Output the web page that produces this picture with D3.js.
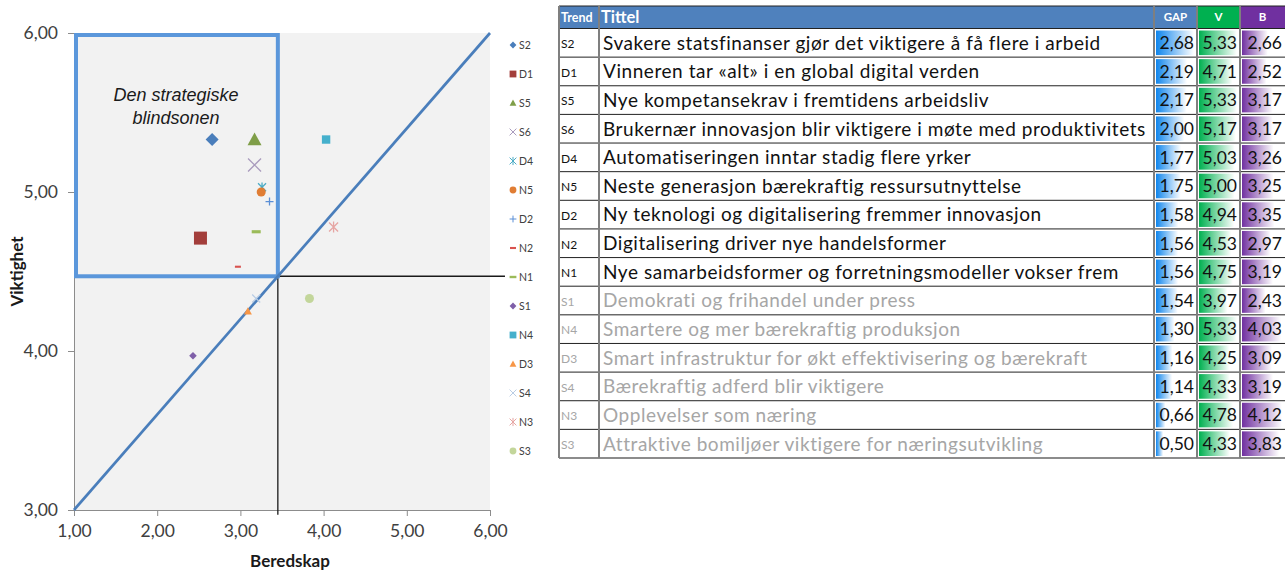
<!DOCTYPE html>
<html>
<head>
<meta charset="utf-8">
<script src="https://cdn.jsdelivr.net/npm/d3@7"></script>
<style>
  body { margin: 0; background: #fff; }
  svg { display: block; }
</style>
</head>
<body>
<svg id="chart" width="1285" height="573"></svg>
<script>
// Trend codes, titles and scores (Viktighet = importance, Beredskap = readiness)
const trends = ["S2","D1","S5","S6","D4","N5","D2","N2","N1","S1","N4","D3","S4","N3","S3"];
const titles = [
  "Svakere statsfinanser gjør det viktigere å få flere i arbeid",
  "Vinneren tar «alt» i en global digital verden",
  "Nye kompetansekrav i fremtidens arbeidsliv",
  "Brukernær innovasjon blir viktigere i møte med produktivitets",
  "Automatiseringen inntar stadig flere yrker",
  "Neste generasjon bærekraftig ressursutnyttelse",
  "Ny teknologi og digitalisering fremmer innovasjon",
  "Digitalisering driver nye handelsformer",
  "Nye samarbeidsformer og forretningsmodeller vokser frem",
  "Demokrati og frihandel under press",
  "Smartere og mer bærekraftig produksjon",
  "Smart infrastruktur for økt effektivisering og bærekraft",
  "Bærekraftig adferd blir viktigere",
  "Opplevelser som næring",
  "Attraktive bomiljøer viktigere for næringsutvikling"
];
const gap        = [2.68, 2.19, 2.17, 2.00, 1.77, 1.75, 1.58, 1.56, 1.56, 1.54, 1.30, 1.16, 1.14, 0.66, 0.50];
const viktighet  = [5.33, 4.71, 5.33, 5.17, 5.03, 5.00, 4.94, 4.53, 4.75, 3.97, 5.33, 4.25, 4.33, 4.78, 4.33];
const beredskap  = [2.66, 2.52, 3.17, 3.17, 3.26, 3.25, 3.35, 2.97, 3.19, 2.43, 4.03, 3.09, 3.19, 4.12, 3.83];
const highlighted = 9;              // the top rows shown in black
const xTicks = [1, 2, 3, 4, 5, 6];
const yTicks = [3, 4, 5, 6];
const splitX = 3.45;                // quadrant split on Beredskap
const zoneLabel = ["Den strategiske", "blindsonen"];

// Marker look per trend
const markerStyle = {
  S2: {shape: "diamond",  color: "#4a7ebb", r: 6.5},
  D1: {shape: "square",   color: "#a33e3b", r: 6.5},
  S5: {shape: "triangle", color: "#7f9e48", r: 7},
  S6: {shape: "x",        color: "#a99bbd", r: 6.5},
  D4: {shape: "star",     color: "#4bacc6", r: 4},
  N5: {shape: "circle",   color: "#e07d34", r: 4.5},
  D2: {shape: "plus",     color: "#5b8fd6", r: 4},
  N2: {shape: "dash",     color: "#d9534f", r: 3},
  N1: {shape: "dash",     color: "#9bbb59", r: 4.5},
  S1: {shape: "diamond",  color: "#7f5fa8", r: 3.8},
  N4: {shape: "square",   color: "#45b0cc", r: 4.2},
  D3: {shape: "triangle", color: "#f79646", r: 4},
  S4: {shape: "x",        color: "#b9cde5", r: 4},
  N3: {shape: "star",     color: "#e6a5a3", r: 4.5},
  S3: {shape: "circle",   color: "#c3d69b", r: 4.5}
};

function markerPath(shape, r) {
  switch (shape) {
    case "diamond":  return `M0,${-r}L${r},0L0,${r}L${-r},0Z`;
    case "square":   return `M${-r},${-r}H${r}V${r}H${-r}Z`;
    case "triangle": return `M0,${-r}L${r},${r*0.8}L${-r},${r*0.8}Z`;
    case "x":        return `M${-r},${-r}L${r},${r}M${r},${-r}L${-r},${r}`;
    case "star":     return `M${-r},${-r}L${r},${r}M${r},${-r}L${-r},${r}M0,${-r*1.2}V${r*1.2}`;
    case "plus":     return `M${-r},0H${r}M0,${-r}V${r}`;
    case "circle":   return d3.arc()({innerRadius: 0, outerRadius: r, startAngle: 0, endAngle: 2*Math.PI});
    case "dash":     return `M${-r},${-r*0.35}H${r}V${r*0.35}H${-r}Z`;
  }
}
const stroked = s => s === "x" || s === "star" || s === "plus";

const svg = d3.select("#chart");
const points = trends.map((t, i) => ({code: t, x: beredskap[i], y: viktighet[i]}));

// ---------- Scatter plot ----------
const x = d3.scaleLinear().domain([1, 6]).range([74, 490]);
const y = d3.scaleLinear().domain([3, 6]).range([510, 33]);
const diag = v => 3 + (v - 1) * 0.6;   // reference line from (1,3) to (6,6)
const splitY = diag(splitX);

const plot = svg.append("g");
plot.append("rect")
  .attr("x", x(1)).attr("y", y(6))
  .attr("width", x(6) - x(1)).attr("height", y(3) - y(6))
  .attr("fill", "#f2f2f2");

// axes
const fmt = d => d3.format(".2f")(d).replace(".", ",");
const yAxis = d3.axisLeft(y).tickValues(yTicks).tickSize(6).tickPadding(10).tickFormat(fmt);
const xAxis = d3.axisBottom(x).tickValues(xTicks).tickSize(6).tickPadding(9).tickFormat(fmt);
const gy = plot.append("g").attr("transform", `translate(${x(1)},0)`).call(yAxis);
const gx = plot.append("g").attr("transform", `translate(0,${y(3)})`).call(xAxis);
[gx, gy].forEach(g => {
  g.select(".domain").attr("stroke", "#8c8c8c");
  g.selectAll(".tick line").attr("stroke", "#8c8c8c");
  g.selectAll(".tick text").attr("fill", "#404040")
    .style("font-family", "Lato, 'Open Sans', sans-serif").style("font-size", "17.5px");
});

// axis titles
plot.append("text")
  .attr("transform", `translate(23,${(y(3) + y(6)) / 2}) rotate(-90)`)
  .attr("text-anchor", "middle")
  .style("font-family", "Lato, sans-serif").style("font-weight", "bold").style("font-size", "17px")
  .attr("fill", "#1a1a1a").text("Viktighet");
plot.append("text")
  .attr("x", (x(1) + x(6)) / 2 + 8).attr("y", 567)
  .attr("text-anchor", "middle")
  .style("font-family", "Lato, sans-serif").style("font-weight", "bold").style("font-size", "17px")
  .attr("fill", "#1a1a1a").text("Beredskap");

// quadrant lines
plot.append("path")
  .attr("d", d3.line()([[x(splitX), y(splitY)], [x(6.18), y(splitY)]]))
  .attr("stroke", "#1a1a1a").attr("stroke-width", 1.3).attr("fill", "none");
plot.append("path")
  .attr("d", d3.line()([[x(splitX), y(splitY)], [x(splitX), y(2.97)]]))
  .attr("stroke", "#1a1a1a").attr("stroke-width", 1.3).attr("fill", "none");

// blind-zone box
plot.append("rect")
  .attr("x", x(1) + 2).attr("y", y(6) + 2)
  .attr("width", x(splitX) - x(1) - 2).attr("height", y(splitY) - y(6) - 2)
  .attr("fill", "none").attr("stroke", "#5b97db").attr("stroke-width", 4);

// diagonal reference line
plot.append("path")
  .attr("d", d3.line()([[x(1), y(diag(1))], [x(6), y(diag(6))]]))
  .attr("stroke", "#4a7ebb").attr("stroke-width", 2.7).attr("fill", "none");

// zone label
plot.append("text")
  .attr("text-anchor", "middle")
  .style("font-family", "'Liberation Sans', Arial, sans-serif").style("font-style", "italic").style("font-size", "18px")
  .attr("fill", "#1a1a1a")
  .selectAll("tspan").data(zoneLabel).join("tspan")
  .attr("x", 176).attr("y", (d, i) => 101 + i * 23).text(d => d);

// markers
plot.append("g").selectAll("path").data(points).join("path")
  .attr("transform", d => `translate(${x(d.x)},${y(d.y)})`)
  .attr("d", d => markerPath(markerStyle[d.code].shape, markerStyle[d.code].r))
  .attr("fill", d => stroked(markerStyle[d.code].shape) ? "none" : markerStyle[d.code].color)
  .attr("stroke", d => stroked(markerStyle[d.code].shape) ? markerStyle[d.code].color : "none")
  .attr("stroke-width", 1.3);

// legend
const legendY = d3.scalePoint().domain(trends).range([45, 451]);
const leg = plot.append("g").selectAll("g").data(trends).join("g")
  .attr("transform", d => `translate(513,${legendY(d)})`);
leg.append("path")
  .attr("d", d => markerPath(markerStyle[d].shape, Math.min(3.4, markerStyle[d].r)))
  .attr("fill", d => stroked(markerStyle[d].shape) ? "none" : markerStyle[d].color)
  .attr("stroke", d => stroked(markerStyle[d].shape) ? markerStyle[d].color : "none")
  .attr("stroke-width", 1);
leg.append("text").attr("x", 6).attr("dy", "0.35em")
  .style("font-family", "Lato, sans-serif").style("font-size", "10.5px")
  .attr("fill", "#404040").text(d => d);

// ---------- Table ----------
const colX = {trend: 559, title: 599, gap: 1154, v: 1197, b: 1240, end: 1285};
const headTop = 6, headBottom = 28.5;
const row = d3.scaleBand().domain(trends).range([headBottom, 458]);
const table = svg.append("g");
const font = "Lato, 'Open Sans', sans-serif";

// gradient fills for the data bars
const defs = svg.append("defs");
const barColors = {gap: "#0f85ec", v: "#00b050", b: "#7030a0"};
Object.entries(barColors).forEach(([k, c]) => {
  const g = defs.append("linearGradient").attr("id", "grad-" + k).attr("x1", 0).attr("x2", 1).attr("y1", 0).attr("y2", 0);
  g.append("stop").attr("offset", 0).attr("stop-color", c);
  g.append("stop").attr("offset", 1).attr("stop-color", "#fff");
});
defs.append("clipPath").attr("id", "title-clip").append("rect")
  .attr("x", colX.title).attr("y", 0).attr("width", colX.gap - colX.title - 1).attr("height", 573);

// header cells
const headers = [
  {key: "trend", label: "Trend", x0: colX.trend, x1: colX.title, fill: "#4f81bd", size: 12.5, anchor: "start"},
  {key: "title", label: "Tittel", x0: colX.title, x1: colX.gap, fill: "#4f81bd", size: 16.5, anchor: "start"},
  {key: "gap", label: "GAP", x0: colX.gap, x1: colX.v, fill: "#4f81bd", size: 11.5, anchor: "middle"},
  {key: "v", label: "V", x0: colX.v, x1: colX.b, fill: "#00b050", size: 11.5, anchor: "middle"},
  {key: "b", label: "B", x0: colX.b, x1: colX.end, fill: "#7030a0", size: 11.5, anchor: "middle"}
];
table.selectAll("rect.head").data(headers).join("rect").attr("class", "head")
  .attr("x", d => d.x0).attr("y", headTop).attr("width", d => d.x1 - d.x0).attr("height", headBottom - headTop)
  .attr("fill", d => d.fill);
table.selectAll("text.head").data(headers).join("text").attr("class", "head")
  .attr("x", d => d.anchor === "middle" ? (d.x0 + d.x1) / 2 : d.x0 + 2)
  .attr("y", (headTop + headBottom) / 2).attr("dy", "0.36em")
  .attr("text-anchor", d => d.anchor)
  .style("font-family", font).style("font-weight", "bold").style("font-size", d => d.size + "px")
  .attr("fill", "#fff").text(d => d.label);

// data bars
const barCols = [
  {key: "gap", vals: gap, x0: colX.gap, x1: colX.v},
  {key: "v", vals: viktighet, x0: colX.v, x1: colX.b},
  {key: "b", vals: beredskap, x0: colX.b, x1: colX.end}
];
barCols.forEach(col => {
  const w = d3.scaleLinear().domain([0, d3.max(col.vals)]).range([0, col.x1 - col.x0 - 5]);
  table.append("g").selectAll("rect").data(col.vals).join("rect")
    .attr("x", col.x0 + 2).attr("y", (d, i) => row(trends[i]) + 2)
    .attr("width", d => w(d)).attr("height", row.bandwidth() - 4)
    .attr("fill", `url(#grad-${col.key})`);
  table.append("g").selectAll("text").data(col.vals).join("text")
    .attr("x", col.x1 - 3).attr("y", (d, i) => row(trends[i]) + row.bandwidth() / 2).attr("dy", "0.36em")
    .attr("text-anchor", "end")
    .style("font-family", font).style("font-size", "17.5px").attr("fill", "#111")
    .text(d => fmt(d));
});

// trend codes and titles
const textColor = i => i < highlighted ? "#111" : "#a6a6a6";
table.append("g").selectAll("text").data(trends).join("text")
  .attr("x", colX.trend + 2).attr("y", d => row(d) + row.bandwidth() / 2 + 1).attr("dy", "0.36em")
  .style("font-family", font).style("font-size", "12px")
  .attr("fill", (d, i) => textColor(i)).text(d => d);
table.append("g").attr("clip-path", "url(#title-clip)").selectAll("text").data(titles).join("text")
  .attr("x", colX.title + 4).attr("y", (d, i) => row(trends[i]) + row.bandwidth() / 2).attr("dy", "0.36em")
  .style("font-family", font).style("font-size", "19px").style("letter-spacing", "0.55px")
  .attr("fill", (d, i) => textColor(i)).text(d => d);

// grid lines
const rowEdges = trends.map(t => row(t) + row.bandwidth()).slice(0, -1);
table.append("g").selectAll("line").data(rowEdges).join("line")
  .attr("x1", colX.trend).attr("x2", colX.end).attr("y1", d => d).attr("y2", d => d)
  .attr("stroke", "#222").attr("stroke-width", 1);
table.append("line").attr("x1", colX.trend).attr("x2", colX.end)
  .attr("y1", headBottom).attr("y2", headBottom).attr("stroke", "#222");
table.append("line").attr("x1", colX.trend).attr("x2", colX.end)
  .attr("y1", 458).attr("y2", 458).attr("stroke", "#8c8c8c").attr("stroke-width", 2);
table.append("line").attr("x1", colX.trend).attr("x2", colX.end)
  .attr("y1", headTop).attr("y2", headTop).attr("stroke", "#222");
table.append("g").selectAll("line").data([colX.trend, colX.title, colX.gap, colX.v, colX.b]).join("line")
  .attr("x1", d => d).attr("x2", d => d).attr("y1", headTop).attr("y2", 458)
  .attr("stroke", "#7f7f7f").attr("stroke-width", 2);
</script>
</body>
</html>
